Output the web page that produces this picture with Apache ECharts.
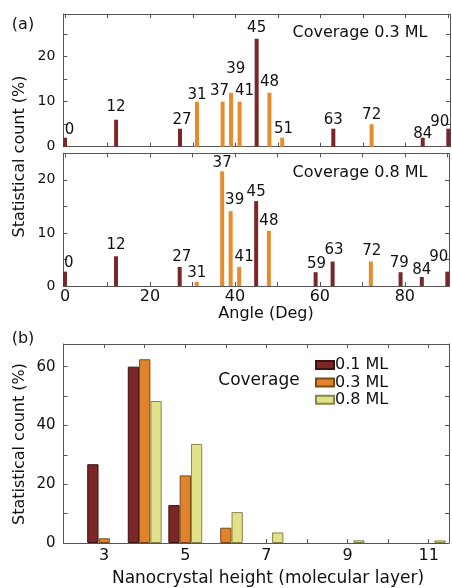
<!DOCTYPE html>
<html><head><meta charset="utf-8">
<script src="https://cdn.jsdelivr.net/npm/echarts@6/dist/echarts.min.js"></script>
<style>html,body{margin:0;padding:0;background:#fff}#c{width:452px;height:588px}</style>
</head><body><div id="c"></div>
<script>
// ---------- DATA ----------
// Panel (a), upper: coverage 0.3 ML
const a1RedAngles = [0, 12, 27, 45, 63, 84, 90];
const a1RedCounts = [2, 6, 4, 24, 4, 2, 4];
const a1OrangeAngles = [31, 37, 39, 41, 48, 51, 72];
const a1OrangeCounts = [10, 10, 12, 10, 12, 2, 5];
// Panel (a), lower: coverage 0.8 ML
const a2RedAngles = [0, 12, 27, 45, 59, 63, 79, 84, 90];
const a2RedCounts = [2.7, 5.6, 3.6, 16, 2.6, 4.6, 2.6, 1.7, 2.7];
const a2OrangeAngles = [31, 37, 39, 41, 48, 72];
const a2OrangeCounts = [0.8, 21.6, 14.1, 3.6, 10.4, 4.6];
// Panel (b)
const heights = [3, 4, 5, 6, 7, 8, 9, 10, 11];
const cov01 = [26.8, 60, 12.9, 0, 0, 0, 0, 0, 0];
const cov03 = [1.6, 62.5, 23, 5.2, 0, 0, 0, 0, 0];
const cov08 = [0, 48.3, 33.7, 10.5, 3.6, 0, 0.9, 0, 0.9];
const legendNames = ['0.1 ML', '0.3 ML', '0.8 ML'];
const angleTickLabels = [0, 20, 40, 60, 80];
const countTickLabelsA1 = [0, 10, 20];
const countTickLabelsA2 = [0, 10, 20];
const heightTickLabels = [3, 5, 7, 9, 11];
const countTickLabelsB = [0, 20, 40, 60];

// ---------- STYLE ----------
const FONT = 'DejaVu Sans';
const TXT = '#111';
const AX = '#555';
const RED = '#7b2728', ORANGE = '#e68c2c', YELLOW = '#e2e088';
// label nudges (px) per angle, purely cosmetic
const nudgeA1 = {0:[4.5,2],12:[0,-2.5],27:[2,1.4],31:[0,3.7],37:[-3,-1],39:[4.6,-14],41:[5,-1],45:[0,-1],48:[0,-0.7],51:[1.3,1.3],63:[0,1.3],72:[0,1],84:[0,6.7],90:[-8.5,3.3]};
const nudgeA2 = {0:[3.7,1.6],12:[0,-1.6],27:[2,-0.2],31:[0,1.2],37:[0,2],39:[4,-1],41:[5,-0.2],45:[0,0.7],48:[0,0],59:[1,1.8],63:[1.5,-1.6],72:[1,0],79:[-1.3,1],84:[0,3],90:[-8.5,-5]};

function pts(xs, ys, nudge) {
  return xs.map((x, i) => ({ value: [x, ys[i]], label: { offset: nudge[x] || [0, 0] } }));
}
function angleBar(name, xs, ys, nudge, color, axisIdx) {
  return {
    type: 'bar', name, xAxisIndex: axisIdx, yAxisIndex: axisIdx,
    data: pts(xs, ys, nudge), barWidth: 4, barGap: '-100%',
    itemStyle: { color },
    label: { show: true, position: 'top', distance: 2.5, fontFamily: FONT, fontSize: 15, color: TXT,
      formatter: p => String(p.value[0]) }
  };
}
const gridsPos = [
  { left: 63.3, top: 14, width: 386.7, height: 132.7 },
  { left: 63.3, top: 153.3, width: 386.7, height: 132.7 },
  { left: 63.6, top: 344, width: 386.4, height: 199 }
];
const lineStyle = { color: AX, width: 1 };
function xAx(grid, pos, min, max, opts, labelSet) {
  return Object.assign({
    type: 'value', gridIndex: grid, position: pos, min, max,
    axisLine: { show: true, onZero: false, lineStyle },
    axisTick: { show: true, inside: true, length: 4, lineStyle },
    splitLine: { show: false },
    axisLabel: labelSet ? { show: true, margin: 3, fontFamily: FONT, fontSize: 16, color: TXT,
      formatter: v => labelSet.includes(Math.round(v * 1000) / 1000) ? String(v) : '' } : { show: false }
  }, opts);
}
function yAx(grid, pos, max, interval, labelSet) {
  return {
    type: 'value', gridIndex: grid, position: pos, min: 0, max, interval,
    axisLine: { show: true, onZero: false, lineStyle },
    axisTick: { show: true, inside: true, length: 4, lineStyle },
    splitLine: { show: false },
    axisLabel: labelSet ? { show: true, margin: 8, fontFamily: FONT, fontSize: 14, color: TXT,
      showMaxLabel: false,
      formatter: v => labelSet.includes(v) ? String(v) : '' } : { show: false }
  };
}
const angOpts = { splitNumber: 9 };
const hOpts = { interval: 1 };

const xAxes = [
  xAx(0, 'bottom', -0.4, 90.4, angOpts, null),
  xAx(0, 'top', -0.4, 90.4, angOpts, null),
  xAx(1, 'bottom', -0.4, 90.4, angOpts, angleTickLabels),
  xAx(1, 'top', -0.4, 90.4, angOpts, null),
  xAx(2, 'bottom', 2, 11.5, hOpts, heightTickLabels),
  xAx(2, 'top', 2, 11.5, hOpts, null)
];
const yAxes = [
  yAx(0, 'left', 29.5, 5, countTickLabelsA1),
  yAx(0, 'right', 29.5, 5, null),
  yAx(1, 'left', 25, 5, countTickLabelsA2),
  yAx(1, 'right', 25, 5, null),
  yAx(2, 'left', 67.7, 10, countTickLabelsB),
  yAx(2, 'right', 67.7, 10, null)
];
xAxes[4].axisLabel.margin = 5;
yAxes[4].axisLabel.fontSize = 15;

function hBar(name, vals, color, border) {
  return {
    type: 'bar', name, xAxisIndex: 4, yAxisIndex: 4,
    data: heights.map((h, i) => [h, vals[i] > 0 ? vals[i] : null]),
    barWidth: 11.3, barGap: '0%',
    itemStyle: { color, borderColor: border, borderWidth: 1 }
  };
}

const series = [
  angleBar('a1r', a1RedAngles, a1RedCounts, nudgeA1, RED, 0),
  angleBar('a1o', a1OrangeAngles, a1OrangeCounts, nudgeA1, ORANGE, 0),
  angleBar('a2r', a2RedAngles, a2RedCounts, nudgeA2, RED, 2),
  angleBar('a2o', a2OrangeAngles, a2OrangeCounts, nudgeA2, ORANGE, 2),
  hBar(legendNames[0], cov01, RED, '#3d1212'),
  hBar(legendNames[1], cov03, '#e0832b', '#7a4a18'),
  hBar(legendNames[2], cov08, YELLOW, '#86864e')
];

function txt(x, y, text, size, rot) {
  return { type: 'text', x, y, rotation: rot || 0,
    style: { text, fontFamily: FONT, fontSize: size, fill: TXT, align: 'center', verticalAlign: 'middle' } };
}

const chart = echarts.init(document.getElementById('c'), null, { renderer: 'canvas' });
chart.setOption({
  animation: false,
  backgroundColor: '#fff',
  grid: gridsPos,
  xAxis: xAxes,
  yAxis: yAxes,
  legend: {
    data: legendNames, orient: 'vertical', left: 310, top: 352,
    icon: 'rect', itemWidth: 18, itemHeight: 8, itemGap: 1.4,
    textStyle: { fontFamily: FONT, fontSize: 16, color: TXT, padding: [0, 0, 0, -4] }
  },
  series,
  graphic: [
    txt(23, 25, '(a)', 16),
    txt(23, 339, '(b)', 16),
    txt(360, 33, 'Coverage 0.3 ML', 16),
    txt(360, 173, 'Coverage 0.8 ML', 16),
    txt(20, 156.5, 'Statistical count (%)', 16, Math.PI / 2),
    txt(20, 444, 'Statistical count (%)', 16, Math.PI / 2),
    txt(266, 314, 'Angle (Deg)', 16),
    txt(268, 579, 'Nanocrystal height (molecular layer)', 17),
    txt(259, 381, 'Coverage', 17)
  ]
});
</script></body></html>
